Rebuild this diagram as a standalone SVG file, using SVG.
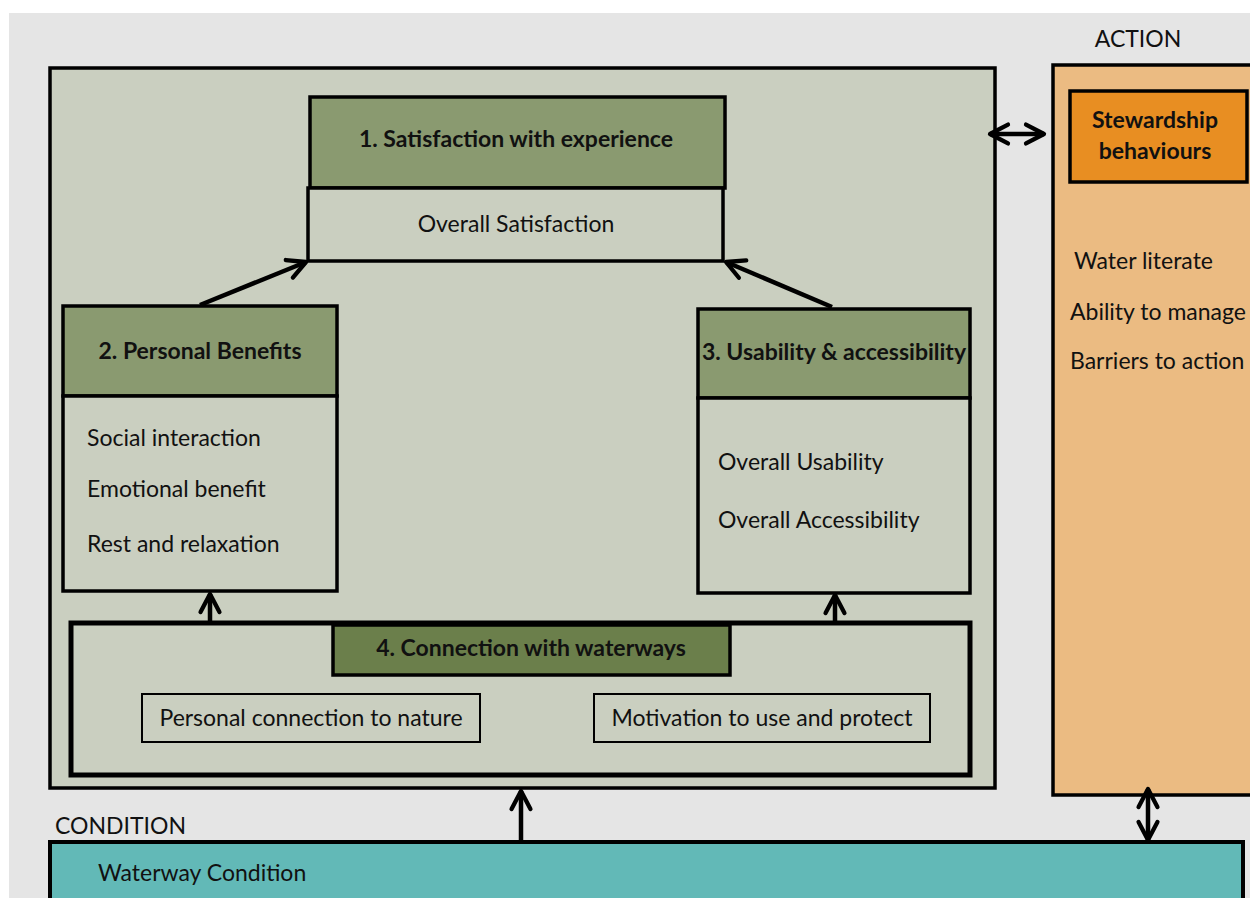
<svg xmlns="http://www.w3.org/2000/svg" width="1250" height="898" viewBox="0 0 1250 898">
<defs>
<style>
text{font-family:Lato,"Liberation Sans",sans-serif;fill:#111;font-size:23px}
.b{font-weight:bold}
.hd{fill:#8a9a70;stroke:#000;stroke-width:3.5}
.bd{fill:#cacfc0;stroke:#000;stroke-width:3.5}
.c{stroke:#000;stroke-width:4.5;fill:none}
</style>
<marker id="ah" viewBox="0 0 12 12" refX="10" refY="6" markerWidth="6" markerHeight="6" orient="auto-start-reverse" markerUnits="strokeWidth">
<path d="M2,1.8 L10,6 L2,10.2" fill="none" stroke="#000" stroke-width="1.9" stroke-linecap="round" stroke-linejoin="round"/>
</marker>
</defs>
<rect x="0" y="0" width="1250" height="898" fill="#fff"/>
<rect x="9" y="13" width="1241" height="885" fill="#e5e5e5"/>
<g id="main"><rect x="50" y="68" width="945" height="720" fill="#cacfc0" stroke="#000" stroke-width="3.5"/></g>
<g id="n1">
<rect class="hd" x="310" y="97" width="415" height="91"/>
<rect class="bd" x="308" y="188" width="415" height="73"/>
<text class="b" x="516" y="147" text-anchor="middle">1. Satisfaction with experience</text>
<text x="516" y="232" text-anchor="middle">Overall Satisfaction</text>
</g>
<g id="n2">
<rect class="hd" x="63" y="306" width="274" height="90"/>
<rect class="bd" x="63" y="396" width="274" height="195"/>
<text class="b" x="200" y="359" text-anchor="middle">2. Personal Benefits</text>
<text x="87" y="446">Social interaction</text>
<text x="87" y="497">Emotional benefit</text>
<text x="87" y="552">Rest and relaxation</text>
</g>
<g id="n3">
<rect class="hd" x="698" y="309" width="272" height="89"/>
<rect class="bd" x="698" y="398" width="272" height="195"/>
<text class="b" x="834" y="360" text-anchor="middle">3. Usability &amp; accessibility</text>
<text x="718" y="470">Overall Usability</text>
<text x="718" y="528">Overall Accessibility</text>
</g>
<g id="n4">
<rect x="71" y="623" width="899" height="152" fill="#cacfc0" stroke="#000" stroke-width="5"/>
<rect x="333" y="625" width="397" height="50" fill="#6b7f4b" stroke="#000" stroke-width="3.5"/>
<text class="b" x="531" y="656" text-anchor="middle">4. Connection with waterways</text>
<rect x="142" y="694" width="338" height="48" fill="#cacfc0" stroke="#000" stroke-width="2"/>
<text x="311" y="726" text-anchor="middle">Personal connection to nature</text>
<rect x="594" y="694" width="336" height="48" fill="#cacfc0" stroke="#000" stroke-width="2"/>
<text x="762" y="726" text-anchor="middle">Motivation to use and protect</text>
</g>
<g id="action">
<text x="1138" y="47" text-anchor="middle">ACTION</text>
<rect x="1053" y="65" width="205" height="730" fill="#ebbb82" stroke="#000" stroke-width="3.5"/>
<rect x="1070" y="91" width="177" height="91" fill="#e88e22" stroke="#000" stroke-width="3.5"/>
<text class="b" x="1155" y="128" text-anchor="middle">Stewardship</text>
<text class="b" x="1155" y="159" text-anchor="middle">behaviours</text>
<text x="1074" y="269">Water literate</text>
<text x="1070" y="320">Ability to manage</text>
<text x="1070" y="369">Barriers to action</text>
</g>
<g id="condition">
<text x="55" y="834">CONDITION</text>
<rect x="50" y="842" width="1193" height="70" fill="#62b9b7" stroke="#000" stroke-width="4"/>
<text x="98" y="881">Waterway Condition</text>
</g>
<g id="connectors">
<line class="c" x1="200" y1="305" x2="306" y2="262" marker-end="url(#ah)"/>
<line class="c" x1="832" y1="307" x2="726" y2="262" marker-end="url(#ah)"/>
<line class="c" x1="210" y1="621" x2="210" y2="594" marker-end="url(#ah)"/>
<line class="c" x1="835" y1="621" x2="835" y2="595" marker-end="url(#ah)"/>
<line class="c" x1="521" y1="842" x2="521" y2="791" marker-end="url(#ah)"/>
<line class="c" x1="990" y1="134" x2="1044" y2="134" marker-start="url(#ah)" marker-end="url(#ah)"/>
<line class="c" x1="1148" y1="789" x2="1148" y2="840" marker-start="url(#ah)" marker-end="url(#ah)"/>
</g>
</svg>
